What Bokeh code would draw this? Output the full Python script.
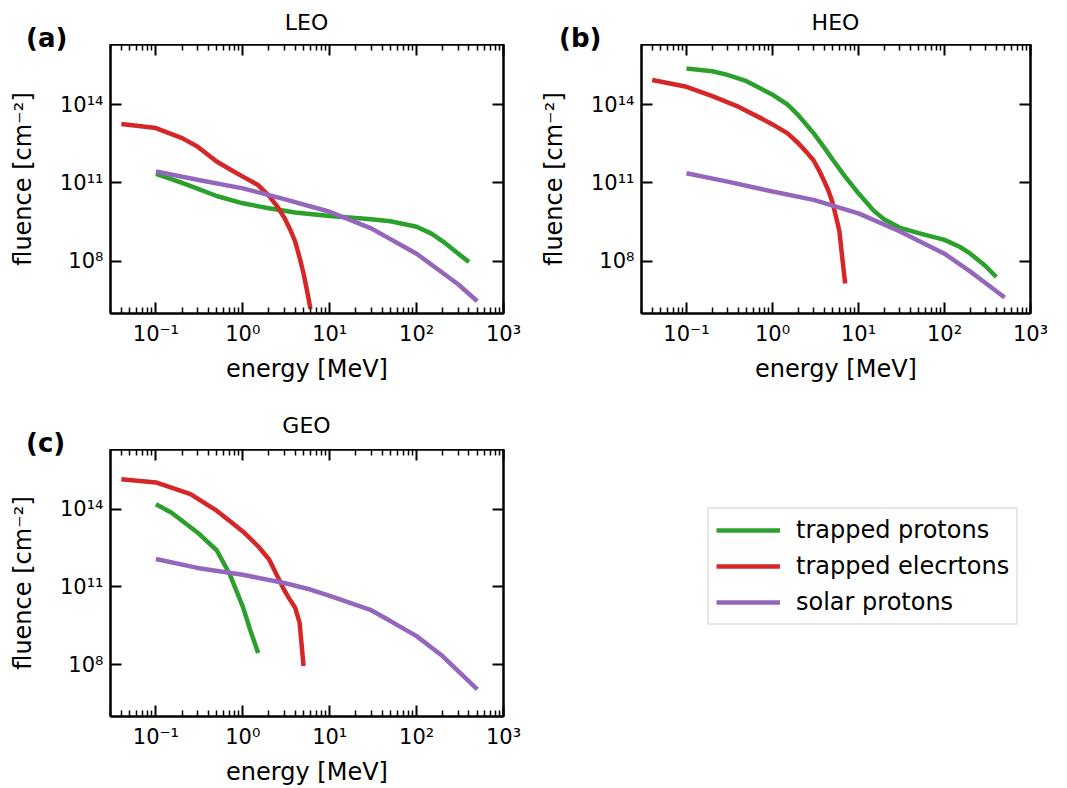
from bokeh.plotting import figure
from bokeh.layouts import row, column
from bokeh.models import (Range1d, FixedTicker, LogAxis, CustomJSTickFormatter,
                          Legend, LegendItem, Div, InlineStyleSheet)
from bokeh.embed import file_html
from bokeh.resources import INLINE

FONT = "DejaVu Sans"
GREEN = "#2ca02c"
RED = "#d62728"
PURPLE = "#9467bd"

# ---------------- data ----------------
x_ticks = [0.1, 1, 10, 100, 1000]
x_tick_labels = ["10⁻¹", "10⁰", "10¹", "10²", "10³"]
y_ticks = [1e8, 1e11, 1e14]
y_tick_labels = ["10⁸", "10¹¹", "10¹⁴"]

# LEO
leo_p_e = [0.1, 0.2, 0.3, 0.5, 1, 2, 4, 10, 20, 30, 50, 100, 150, 200, 300, 400]
leo_p_f = [2.24e11, 1.0e11, 6.0e10, 3.16e10, 1.66e10, 1.07e10, 7.4e9, 5.4e9, 4.5e9,
           4.1e9, 3.4e9, 2.1e9, 1.12e9, 5.8e8, 2.0e8, 9.3e7]
leo_e_e = [0.04, 0.1, 0.2, 0.3, 0.5, 0.75, 1.0, 1.5, 2.0, 2.5, 3.0, 3.5, 4.0, 4.5, 5.0, 5.5, 6.0]
leo_e_f = [1.8e13, 1.26e13, 5.2e12, 2.5e12, 6.6e11, 3.0e11, 1.74e11, 8.3e10, 3.2e10,
           1.23e10, 4.7e9, 1.66e9, 5.8e8, 1.4e8, 3.4e7, 7.1e6, 1.5e6]
leo_s_e = [0.1, 0.3, 1, 3, 10, 30, 100, 300, 500]
leo_s_f = [2.75e11, 1.32e11, 6.2e10, 2.4e10, 7.9e9, 1.82e9, 1.95e8, 1.32e7, 2.95e6]

# HEO
heo_p_e = [0.1, 0.2, 0.3, 0.5, 1, 1.5, 2, 3, 4, 5, 7, 10, 15, 20, 30, 50, 100, 150, 200, 300, 400]
heo_p_f = [2.4e15, 1.9e15, 1.38e15, 7.9e14, 2.4e14, 1.0e14, 3.9e13, 8.1e12, 2.24e12,
           7.9e11, 1.74e11, 4.0e10, 8.7e9, 4.0e9, 1.95e9, 1.2e9, 6.6e8, 3.6e8, 1.95e8,
           6.6e7, 2.5e7]
heo_e_e = [0.04, 0.1, 0.2, 0.4, 0.75, 1.0, 1.5, 2.0, 2.5, 3.0, 3.5, 4.0, 4.5, 5.0, 5.5,
           6.0, 6.5, 7.0]
heo_e_f = [8.7e14, 4.8e14, 2.1e14, 8.3e13, 2.9e13, 1.74e13, 7.9e12, 3.3e12, 1.48e12,
           7.4e11, 2.9e11, 1.17e11, 4.8e10, 1.74e10, 4.8e9, 1.41e9, 1.23e8, 1.41e7]
heo_s_e = [0.1, 0.3, 1, 3, 10, 30, 100, 200, 300, 500]
heo_s_f = [2.34e11, 1.12e11, 4.7e10, 2.24e10, 6.8e9, 1.41e9, 1.95e8, 4.0e7, 1.48e7, 4.1e6]

# GEO
geo_p_e = [0.1, 0.15, 0.2, 0.3, 0.5, 0.7, 1.0, 1.2, 1.5]
geo_p_f = [1.55e14, 7.4e13, 3.55e13, 1.26e13, 2.6e12, 3.3e11, 1.74e10, 2.5e9, 2.8e8]
geo_e_e = [0.04, 0.1, 0.25, 0.5, 0.75, 1, 1.5, 2, 2.5, 3, 3.5, 4, 4.5, 5]
geo_e_f = [1.41e15, 1.07e15, 3.8e14, 8.7e13, 3.0e13, 1.38e13, 3.7e12, 1.17e12, 2.6e11,
           7.4e10, 3.16e10, 1.58e10, 4.2e9, 8.9e7]
geo_s_e = [0.1, 0.3, 1, 3, 6, 10, 30, 50, 100, 200, 500]
geo_s_f = [1.2e12, 5.4e11, 2.95e11, 1.41e11, 7.9e10, 4.5e10, 1.26e10, 4.8e9, 1.26e9,
           2.1e8, 1.12e7]

series_names = ["trapped protons", "trapped elecrtons", "solar protons"]
series_colors = [GREEN, RED, PURPLE]

X_RANGE = (0.03, 1000)
Y_RANGE = (1e6, 2e16)

x_minor = [m * 10.0 ** d for d in range(-2, 3) for m in range(2, 10)
           if X_RANGE[0] <= m * 10.0 ** d <= X_RANGE[1]]

FMT_CODE = """
for (let i = 0; i < tv.length; i++) {
  if (Math.abs(Math.log10(tick) - Math.log10(tv[i])) < 1e-6) return tl[i];
}
return "";
"""

OVERFLOW_CSS = InlineStyleSheet(css=":host, :host * { overflow: visible !important; }")


def style_axis(ax, visible_labels):
    ax.axis_line_width = 2
    ax.axis_line_color = "black"
    ax.major_tick_in = 11
    ax.major_tick_out = 0
    ax.minor_tick_in = 6
    ax.minor_tick_out = 0
    ax.major_tick_line_width = 2
    ax.minor_tick_line_width = 1.5
    ax.major_tick_line_color = "black"
    ax.minor_tick_line_color = "black"
    if visible_labels:
        ax.major_label_text_font = FONT
        ax.major_label_text_font_size = "21px"
        ax.major_label_text_color = "black"
        ax.axis_label_text_font = FONT
        ax.axis_label_text_font_size = "24px"
        ax.axis_label_text_font_style = "normal"
        ax.axis_label_text_color = "black"
    else:
        ax.major_label_text_font_size = "1px"
        ax.major_label_text_alpha = 0
        ax.major_label_standoff = 0


def make_header(width, height, title, tx, t_top, letter, lx, l_top):
    html = (
        f'<div style="position:relative;width:{width}px;height:{height}px;'
        f'font-family:\'{FONT}\';color:black;overflow:visible;">'
        f'<span style="position:absolute;left:{tx}px;top:{t_top}px;'
        f'transform:translateX(-50%);font-size:22px;line-height:22px;'
        f'white-space:nowrap;">{title}</span>'
        f'<span style="position:absolute;left:{lx}px;top:{l_top}px;'
        f'font-size:26px;line-height:26px;font-weight:bold;'
        f'white-space:nowrap;">{letter}</span>'
        '</div>'
    )
    return Div(text=html, width=width, height=height, margin=0,
               styles={"overflow": "visible"}, stylesheets=[OVERFLOW_CSS])


def make_panel(width, height, bl, br, bb, data):
    p = figure(width=width, height=height, x_axis_type="log", y_axis_type="log",
               x_range=Range1d(*X_RANGE), y_range=Range1d(*Y_RANGE),
               min_border_left=bl, min_border_right=br, min_border_top=0,
               min_border_bottom=bb, output_backend="svg", toolbar_location=None)
    p.grid.visible = False
    p.outline_line_color = "black"
    p.outline_line_width = 2
    p.background_fill_color = "white"
    p.border_fill_alpha = 0

    xticker = FixedTicker(ticks=x_ticks, minor_ticks=x_minor)
    yticker = FixedTicker(ticks=y_ticks, minor_ticks=[])
    xfmt = CustomJSTickFormatter(args=dict(tv=x_ticks, tl=x_tick_labels), code=FMT_CODE)
    yfmt = CustomJSTickFormatter(args=dict(tv=y_ticks, tl=y_tick_labels), code=FMT_CODE)

    xa = p.xaxis[0]
    xa.ticker = xticker
    xa.formatter = xfmt
    xa.axis_label = "energy [MeV]"
    style_axis(xa, True)
    xa.major_label_standoff = 8
    xa.axis_label_standoff = 6

    ya = p.yaxis[0]
    ya.ticker = yticker
    ya.formatter = yfmt
    ya.axis_label = "fluence [cm⁻²]"
    style_axis(ya, True)
    ya.major_label_standoff = 7
    ya.axis_label_standoff = 20

    top = LogAxis(ticker=xticker, formatter=xfmt)
    style_axis(top, False)
    p.add_layout(top, "above")
    right = LogAxis(ticker=yticker, formatter=yfmt)
    style_axis(right, False)
    p.add_layout(right, "right")

    for (xs, ys), col in zip(data, series_colors):
        p.line(xs, ys, line_color=col, line_width=4.5)
    return p


h1 = make_header(530, 44, "LEO", 306.5, 12, "(a)", 26, 25)
p1 = make_panel(530, 356, 110, 27, 87,
                [(leo_p_e, leo_p_f), (leo_e_e, leo_e_f), (leo_s_e, leo_s_f)])
h2 = make_header(537, 44, "HEO", 305.5, 12, "(b)", 29, 25)
p2 = make_panel(537, 356, 111, 37, 87,
                [(heo_p_e, heo_p_f), (heo_e_e, heo_e_f), (heo_s_e, heo_s_f)])
h3 = make_header(1067, 49, "GEO", 306.5, 15, "(c)", 26, 30)
p3 = make_panel(530, 339, 110, 27, 71,
                [(geo_p_e, geo_p_f), (geo_e_e, geo_e_f), (geo_s_e, geo_s_f)])

# legend panel (legend proxies: one undefined point each, so nothing is drawn)
p4 = figure(width=537, height=339, x_range=Range1d(0, 1), y_range=Range1d(0, 1),
            x_axis_type=None, y_axis_type=None, output_backend="svg",
            toolbar_location=None, min_border_left=0, min_border_right=0,
            min_border_top=0, min_border_bottom=71, outline_line_color=None)
p4.grid.visible = False
p4.border_fill_alpha = 0
items = []
for name, col in zip(series_names, series_colors):
    r = p4.line(x=[float("nan")], y=[float("nan")], line_color=col, line_width=4.5)
    items.append(LegendItem(label=name, renderers=[r]))
legend = Legend(items=items, location=(177, 91), label_text_font=FONT,
                label_text_font_size="24px", label_text_color="black",
                glyph_width=64, glyph_height=24, label_standoff=16,
                padding=7, spacing=8, margin=0,
                border_line_color="#d0d0d0", border_line_width=2,
                background_fill_color="white", background_fill_alpha=1)
p4.add_layout(legend)

layout = column(row(column(h1, p1), column(h2, p2)), column(h3, row(p3, p4)))

with open("out.html", "w") as f:
    f.write(file_html(layout, INLINE))
